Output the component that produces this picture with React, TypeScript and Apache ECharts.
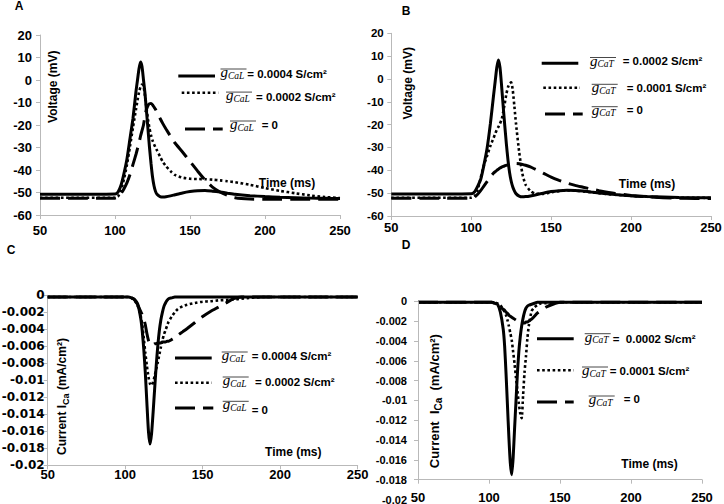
import { useEffect, useRef } from 'react';
import * as echarts from 'echarts';

// ---------- data ----------
const timeAB = [50, 75, 100, 102, 104, 106, 108, 110, 112, 114, 115, 116, 117, 118, 119, 120, 121, 122, 123, 124, 125, 126, 127, 128, 130, 132, 134, 137, 140, 145, 150, 155, 160, 165, 170, 175, 180, 190, 200, 210, 220, 230, 240, 250];

const vCaL4 = [-50.8, -50.8, -50.7, -49.8, -46.8, -41.5, -35, -26, -17, -5, 0, 5, 8, 6, 0, -6, -14, -22, -30, -37, -43, -47, -49.5, -50.8, -51.8, -52, -51.9, -51.5, -51, -50.2, -49.6, -49.2, -49.1, -49.4, -49.8, -50.3, -50.8, -51.4, -51.8, -52.1, -52.3, -52.5, -52.6, -52.7];
const vCaL2 = [-52.3, -52.3, -52.3, -51.8, -49, -44, -37.5, -29.5, -21, -13, -9, -5.5, -3, -2, -2.8, -7, -12.5, -17.5, -21.5, -24.5, -26.8, -28.5, -30, -31.3, -34, -36.5, -38.3, -40.5, -42.2, -43.4, -43.9, -44, -44.1, -44.3, -44.6, -45, -45.4, -46.6, -48, -49.3, -50.3, -51.3, -52, -52.5];
const vCaL0 = [-52.5, -52.5, -52.5, -52, -50.5, -48.3, -45.6, -42, -37.5, -33, -30.5, -28, -25, -22.5, -20, -16, -13, -11.3, -10.5, -10.4, -11, -12, -13, -14.3, -17, -19.5, -21.8, -25, -28, -32, -36.2, -40.4, -44.4, -47.6, -49.8, -51.3, -52.3, -52.9, -53, -53, -53, -53, -53, -53];

const vCaT2 = [-50.4, -50.4, -50.3, -49.5, -47, -43.8, -37.5, -30, -19.5, -7, -1, 5, 8.3, 5, -3, -12, -20.5, -28.5, -35.5, -41, -44.8, -47.3, -49, -50.2, -51.3, -51.6, -51.5, -51.2, -50.8, -50, -49.3, -48.9, -48.7, -48.8, -49.1, -49.5, -49.9, -50.6, -51.1, -51.5, -51.7, -51.9, -52, -52];
const vCaT1 = [-52, -52, -52, -51.5, -48.5, -43, -37.5, -33.5, -29.3, -25.8, -24, -22.2, -21, -19.5, -17.8, -14.5, -10.6, -6.5, -3.6, -2, -1.5, -5, -12, -19.5, -32, -41.5, -46.3, -49, -50.2, -50.3, -49.6, -49.1, -48.8, -48.9, -49.2, -49.6, -50, -50.7, -51.2, -51.6, -51.8, -52, -52, -52.1];
const vCaT0 = [-52.2, -52.2, -52.2, -51.8, -50.5, -48.8, -46.8, -44.8, -42.8, -41.2, -40.6, -40, -39.5, -39, -38.6, -38.3, -38, -37.8, -37.6, -37.4, -37.2, -37.1, -37, -37, -37.1, -37.4, -37.8, -38.5, -39.5, -41.2, -43, -44.4, -45.6, -46.6, -47.4, -48.2, -48.9, -50.1, -51, -51.6, -52, -52.2, -52.3, -52.3];

const timeCD = [50, 75, 100, 102, 104, 106, 108, 110, 111, 112, 113, 114, 115, 116, 117, 118, 119, 120, 121, 122, 123, 124, 125, 126, 127, 128, 130, 132, 134, 137, 140, 145, 150, 155, 160, 165, 170, 175, 180, 190, 200, 250];

const iCaL4 = [-0.0002, -0.0002, -0.0002, -0.0002, -0.0003, -0.0005, -0.001, -0.0027, -0.0042, -0.0064, -0.0092, -0.0127, -0.016, -0.0175, -0.0163, -0.0138, -0.011, -0.0083, -0.006, -0.0042, -0.0029, -0.002, -0.0013, -0.0009, -0.0006, -0.0004, -0.0003, -0.0002, -0.0002, -0.0002, -0.0002, -0.0002, -0.0002, -0.0002, -0.0002, -0.0002, -0.0002, -0.0002, -0.0002, -0.0002, -0.0002, -0.0002];
const iCaL2 = [-0.0002, -0.0002, -0.0002, -0.0002, -0.0003, -0.0006, -0.0012, -0.0024, -0.0034, -0.0051, -0.0068, -0.0083, -0.0096, -0.0104, -0.0106, -0.0102, -0.0095, -0.0087, -0.0079, -0.007, -0.0061, -0.0053, -0.0046, -0.0041, -0.0036, -0.0031, -0.0025, -0.002, -0.0016, -0.0013, -0.0011, -0.0009, -0.00075, -0.0007, -0.0006, -0.00055, -0.0005, -0.0004, -0.0003, -0.0002, -0.0002, -0.0002];
const iCaL0 = [-0.0002, -0.0002, -0.0002, -0.0002, -0.0003, -0.0005, -0.0011, -0.0019, -0.0023, -0.0028, -0.0035, -0.0045, -0.0053, -0.0058, -0.0059, -0.0058, -0.0057, -0.0057, -0.0056, -0.0056, -0.0056, -0.0055, -0.0055, -0.0055, -0.0054, -0.0054, -0.0052, -0.005, -0.0047, -0.0043, -0.0039, -0.0032, -0.0025, -0.0019, -0.0014, -0.0009, -0.0004, -0.0002, -0.0002, -0.0002, -0.0002, -0.0002];

const iCaT2 = [-0.0001, -0.0001, -0.0001, -0.0001, -0.0002, -0.0003, -0.0011, -0.0028, -0.0045, -0.0073, -0.0105, -0.0137, -0.0163, -0.0175, -0.0158, -0.0129, -0.0101, -0.0073, -0.0051, -0.0036, -0.0025, -0.0017, -0.0011, -0.0007, -0.0005, -0.0004, -0.0003, -0.0002, -0.0001, -0.0001, -0.0001, -0.0001, -0.0001, -0.0001, -0.0001, -0.0001, -0.0001, -0.0001, -0.0001, -0.0001, -0.0001, -0.0001];
const iCaT1 = [-0.0001, -0.0001, -0.0001, -0.0001, -0.0001, -0.0002, -0.0004, -0.0008, -0.0011, -0.0014, -0.0019, -0.0025, -0.0032, -0.0039, -0.0051, -0.0063, -0.0077, -0.009, -0.0103, -0.0113, -0.0118, -0.0095, -0.0072, -0.0056, -0.0038, -0.0025, -0.001, -0.0006, -0.0004, -0.0002, -0.0002, -0.0001, -0.0001, -0.0001, -0.0001, -0.0001, -0.0001, -0.0001, -0.0001, -0.0001, -0.0001, -0.0001];
const iCaT0 = [-0.0001, -0.0001, -0.0001, -0.0001, -0.0002, -0.0004, -0.0006, -0.0008, -0.0009, -0.0011, -0.0012, -0.0014, -0.0015, -0.0016, -0.0017, -0.0018, -0.0019, -0.002, -0.0021, -0.0021, -0.0022, -0.0022, -0.0022, -0.0021, -0.0021, -0.002, -0.0018, -0.0015, -0.0012, -0.0009, -0.0006, -0.0003, -0.0001, -0.0001, -0.0001, -0.0001, -0.0001, -0.0001, -0.0001, -0.0001, -0.0001, -0.0001];

const legendA = ['= 0.0004 S/cm²', '= 0.0002 S/cm²', '= 0'];
const legendB = ['= 0.0002 S/cm²', '= 0.0001 S/cm²', '= 0'];
const legendC = ['= 0.0004 S/cm²', '= 0.0002 S/cm²', '= 0'];
const legendD = ['=  0.0002 S/cm²', '= 0.0001 S/cm²', '= 0'];

const timeRange = [50, 250, 50];
const voltRange = [-60, 20, 10];
const currRange = [-0.02, 0, 0.002];
const dAxisCross = -0.018;

// ---------- styling ----------
const SANS = '"Liberation Sans", Arial, sans-serif';
const SERIF = '"Liberation Serif", "DejaVu Serif", serif';
const GRAY = '#b9b9b9';

type Kind = 'solid' | 'dotted' | 'dashed';
const DASH: Record<Kind, any> = { solid: 'solid', dotted: [2.6, 2.6], dashed: [20, 8] };
const WIDTH: Record<Kind, number> = { solid: 3, dotted: 2.6, dashed: 3 };

const pairs = (t: number[], v: number[]) => t.map((x, i) => [x, v[i]]);

function mkSeries(idx: number, kind: Kind, name: string, t: number[], v: number[], z: number, extra: any = {}) {
  return {
    type: 'line', name, xAxisIndex: idx, yAxisIndex: idx, data: pairs(t, v),
    showSymbol: false, symbol: 'none', smooth: 0.2, z,
    lineStyle: { color: '#000', width: WIDTH[kind], type: DASH[kind] },
    ...extra,
  };
}

const grids = [
  { left: 40, top: 35, width: 300, height: 180 },
  { left: 391.3, top: 33.3, width: 319.7, height: 182.7 },
  { left: 47.7, top: 295.3, width: 310, height: 170 },
  { left: 418, top: 301.3, width: 284, height: 198.2 },
];

function xAx(i: number, margin: number, offset = 0) {
  return {
    type: 'value', gridIndex: i, min: timeRange[0], max: timeRange[1], interval: timeRange[2], offset,
    axisLine: { show: true, onZero: false, lineStyle: { color: GRAY, width: 1 } },
    axisTick: { show: true, length: 4, lineStyle: { color: GRAY } },
    axisLabel: { color: '#000', fontFamily: SANS, fontWeight: 'bold', fontSize: 13, margin },
    splitLine: { show: false },
  };
}
function yAx(i: number, r: number[], margin: number, fontSize: number, fontFamily = SANS, showLine = true) {
  return {
    type: 'value', gridIndex: i, min: r[0], max: r[1], interval: r[2],
    axisLine: { show: showLine, onZero: false, lineStyle: { color: GRAY, width: 1 } },
    axisTick: { show: true, length: 4, lineStyle: { color: GRAY } },
    axisLabel: { color: '#000', fontFamily, fontWeight: 'bold', fontSize, margin },
    splitLine: { show: false },
  };
}

// legend decoration layout
type Row = { kind: Kind; s: number[]; gx: number; gb: number; ex: number; ey: number };
const rowsA: Row[] = [
  { kind: 'solid', s: [178.3, 215, 76], gx: 220.5, gb: 76.5, ex: 247.3, ey: 74 },
  { kind: 'dotted', s: [181.7, 218.3, 92.7], gx: 226, gb: 99.6, ex: 256, ey: 96.7 },
  { kind: 'dashed', s: [185, 222.7, 129], gx: 230, gb: 128.5, ex: 261.7, ey: 125.3 },
];
const rowsB: Row[] = [
  { kind: 'solid', s: [541.7, 578.3, 63.3], gx: 590, gb: 65, ex: 622.7, ey: 61 },
  { kind: 'dotted', s: [543.3, 580, 87.7], gx: 591.7, gb: 91.8, ex: 626.7, ey: 87.7 },
  { kind: 'dashed', s: [545, 582.7, 114], gx: 591.7, gb: 114.2, ex: 626.7, ey: 110 },
];
const rowsC: Row[] = [
  { kind: 'solid', s: [175, 211.7, 358], gx: 221.7, gb: 359.5, ex: 251.7, ey: 356 },
  { kind: 'dotted', s: [175, 211.7, 382.7], gx: 222.7, gb: 384.5, ex: 255, ey: 382 },
  { kind: 'dashed', s: [175, 213.3, 408], gx: 222.7, gb: 408.8, ex: 251.7, ey: 410.3 },
];
const rowsD: Row[] = [
  { kind: 'solid', s: [537, 573.7, 338.7], gx: 584.7, gb: 341.2, ex: 612.7, ey: 339.3 },
  { kind: 'dotted', s: [537, 573.7, 370.3], gx: 582, gb: 374.5, ex: 609.7, ey: 371 },
  { kind: 'dashed', s: [537, 573.7, 402], gx: 588.7, gb: 403.5, ex: 623.7, ey: 398.7 },
];

function legendEls(rows: Row[], texts: string[], sub: string) {
  const els: any[] = [];
  rows.forEach((r, i) => {
    els.push({
      type: 'line', silent: true,
      shape: { x1: r.s[0], y1: r.s[2], x2: r.s[1], y2: r.s[2] },
      style: { stroke: '#000', lineWidth: WIDTH[r.kind], lineDash: r.kind === 'solid' ? null : DASH[r.kind] },
    });
    els.push({
      type: 'line', silent: true,
      shape: { x1: r.gx, y1: r.gb - 7.5, x2: r.gx + 26, y2: r.gb - 7.5 },
      style: { stroke: '#333', lineWidth: 0.9 },
    });
    els.push({
      type: 'text', silent: true, x: r.gx, y: r.gb - 4.5,
      style: { text: 'g', fill: '#000', fontFamily: SERIF, fontStyle: 'italic', fontSize: 15, align: 'left', verticalAlign: 'middle' },
    });
    els.push({
      type: 'text', silent: true, x: r.gx + 7.5, y: r.gb - 1,
      style: { text: sub, fill: '#000', fontFamily: SERIF, fontStyle: 'italic', fontSize: 9.5, align: 'left', verticalAlign: 'middle' },
    });
    els.push({
      type: 'text', silent: true, x: r.ex, y: r.ey,
      style: { text: texts[i], fill: '#000', fontFamily: SANS, fontWeight: 'bold', fontSize: 11.5, align: 'left', verticalAlign: 'middle' },
    });
  });
  return els;
}

function label(text: string, x: number, y: number, size = 12, rotate = false) {
  return {
    type: 'text', silent: true, x, y, rotation: rotate ? Math.PI / 2 : 0,
    style: { text, fill: '#000', fontFamily: SANS, fontWeight: 'bold', fontSize: size, align: 'center', verticalAlign: 'middle' },
  };
}
function currentLabel(text: string, x: number, y: number, size: number) {
  return {
    type: 'text', silent: true, x, y, rotation: Math.PI / 2,
    style: {
      text, fill: '#000', fontFamily: SANS, fontWeight: 'bold', fontSize: size, align: 'center', verticalAlign: 'middle', lineHeight: 18,
      rich: { s: { fontFamily: SANS, fontWeight: 'bold', fontSize: size - 3, verticalAlign: 'bottom', lineHeight: 13 } },
    },
  };
}

export default function App() {
  const ref = useRef<HTMLDivElement>(null);
  useEffect(() => {
    const chart = echarts.init(ref.current!, null, { renderer: 'svg' });
    const option: any = {
      animation: false,
      backgroundColor: '#fff',
      grid: grids.map((g) => ({ ...g, containLabel: false, outerBoundsMode: 'none' })),
      xAxis: [xAx(0, 8.5), xAx(1, 5), xAx(2, 3), xAx(3, 11, -grids[3].height * (dAxisCross - currRange[0]) / (currRange[1] - currRange[0]))],
      yAxis: [yAx(0, voltRange, 8, 13), yAx(1, voltRange, 7.6, 11.5), yAx(2, currRange, 3, 12, '"DejaVu Sans", sans-serif'), yAx(3, currRange, 11, 11, SANS, false)],
      series: [
        mkSeries(0, 'dashed', 'gCaL = 0', timeAB, vCaL0, 2),
        mkSeries(0, 'dotted', 'gCaL = 0.0002 S/cm²', timeAB, vCaL2, 3),
        mkSeries(0, 'solid', 'gCaL = 0.0004 S/cm²', timeAB, vCaL4, 4),
        mkSeries(1, 'dashed', 'gCaT = 0', timeAB, vCaT0, 2),
        mkSeries(1, 'dotted', 'gCaT = 0.0001 S/cm²', timeAB, vCaT1, 3),
        mkSeries(1, 'solid', 'gCaT = 0.0002 S/cm²', timeAB, vCaT2, 4),
        mkSeries(2, 'dashed', 'gCaL = 0', timeCD, iCaL0, 2),
        mkSeries(2, 'dotted', 'gCaL = 0.0002 S/cm²', timeCD, iCaL2, 3),
        mkSeries(2, 'solid', 'gCaL = 0.0004 S/cm²', timeCD, iCaL4, 4),
        mkSeries(3, 'dashed', 'gCaT = 0', timeCD, iCaT0, 2, {
          markLine: {
            silent: true, symbol: ['none', 'none'], label: { show: false },
            lineStyle: { color: GRAY, width: 1, type: 'solid' },
            data: [[{ coord: [timeRange[0], currRange[1]] }, { coord: [timeRange[0], dAxisCross] }]],
          },
        }),
        mkSeries(3, 'dotted', 'gCaT = 0.0001 S/cm²', timeCD, iCaT1, 3),
        mkSeries(3, 'solid', 'gCaT = 0.0002 S/cm²', timeCD, iCaT2, 4),
      ],
      graphic: {
        elements: [
          label('A', 19, 6),
          label('B', 406, 11),
          label('C', 11, 249.5),
          label('D', 406, 245),
          label('Voltage (mV)', 52.5, 86.7, 12, true),
          label('Voltage (mV)', 408, 83.3, 12, true),
          label('Time (ms)', 287, 182.5),
          label('Time (ms)', 647, 184),
          label('Time (ms)', 293.3, 452),
          label('Time (ms)', 649.5, 463.7),
          currentLabel('Current I{s|Ca} (mA/cm²)', 61.5, 396.5, 12),
          currentLabel('Current  I{s|Ca}  (mA/cm²)', 434.5, 401.2, 13),
          ...legendEls(rowsA, legendA, 'CaL'),
          ...legendEls(rowsB, legendB, 'CaT'),
          ...legendEls(rowsC, legendC, 'CaL'),
          ...legendEls(rowsD, legendD, 'CaT'),
        ],
      },
    };
    chart.setOption(option);
    return () => chart.dispose();
  }, []);
  return <div ref={ref} style={{ position: 'fixed', left: 0, top: 0, width: 724, height: 504, background: '#fff' }} />;
}
